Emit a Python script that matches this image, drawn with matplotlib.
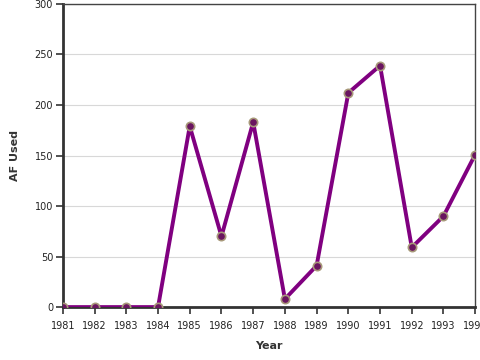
import matplotlib
matplotlib.use("Agg")
import matplotlib.pyplot as plt

years = [1981, 1982, 1983, 1984, 1985, 1986, 1987, 1988, 1989, 1990, 1991, 1992, 1993, 1994]
af_used = [0, 0, 0, 0, 179, 70, 183, 8, 41, 212, 239, 59, 90, 151]

plt.rcParams["font.family"] = "DejaVu Sans"

fig = plt.figure(figsize=(4.8, 3.6), dpi=100)
ax = fig.add_axes([0.131, 0.147, 0.859, 0.842])

ax.plot(years, af_used, color="#800080", linewidth=2.8, zorder=3,
        marker="o", markersize=6, markerfacecolor="#6a1560",
        markeredgecolor="#a8997a", markeredgewidth=1.2)

ax.set_xlim(1981, 1994)
ax.set_ylim(0, 300)
ax.set_xticks(years)
ax.set_yticks(range(0, 301, 50))
ax.tick_params(axis="both", labelsize=7, length=5, width=1.2, color="#333333",
               labelcolor="#222222")
ax.tick_params(axis="x", pad=5)
ax.tick_params(axis="y", pad=2)
ax.grid(axis="y", color="#d8d8d8", linewidth=0.8, zorder=0)
ax.set_axisbelow(True)

for side in ["left", "bottom"]:
    ax.spines[side].set_linewidth(2)
    ax.spines[side].set_color("#333333")
for side in ["top", "right"]:
    ax.spines[side].set_linewidth(1)
    ax.spines[side].set_color("#444444")

ax.set_xlabel("Year", fontsize=8, fontweight="bold", color="#333333")
ax.set_ylabel("AF Used", fontsize=8, fontweight="bold", color="#333333")
ax.xaxis.set_label_coords(0.5, -0.112)
ax.yaxis.set_label_coords(-0.105, 0.5)

fig.savefig("out.png", dpi=100)
